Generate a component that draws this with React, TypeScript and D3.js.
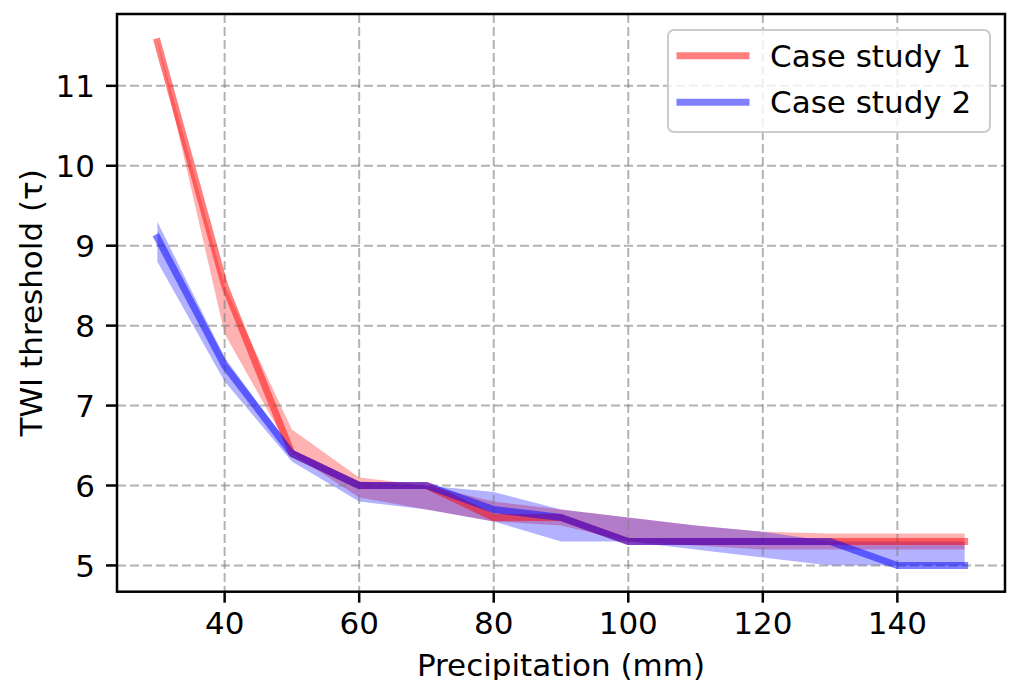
import React from "react";
import * as d3 from "d3";

const precip = [30, 40, 50, 60, 70, 80, 90, 100, 110, 120, 130, 140, 150];
const case1 = [11.55, 8.5, 6.4, 6.0, 6.0, 5.6, 5.6, 5.3, 5.3, 5.3, 5.3, 5.3, 5.3];
const case1Low = [11.55, 7.9, 6.4, 5.85, 5.7, 5.55, 5.5, 5.3, 5.25, 5.2, 5.2, 5.2, 5.2];
const case1High = [11.57, 8.5, 6.7, 6.1, 6.0, 5.8, 5.7, 5.6, 5.5, 5.42, 5.4, 5.4, 5.4];
const case2 = [9.1, 7.5, 6.4, 6.0, 6.0, 5.7, 5.6, 5.3, 5.3, 5.3, 5.3, 5.0, 5.0];
const case2Low = [8.8, 7.3, 6.3, 5.8, 5.7, 5.55, 5.3, 5.3, 5.2, 5.1, 5.0, 5.0, 5.0];
const case2High = [9.3, 7.6, 6.45, 6.05, 6.0, 5.92, 5.7, 5.6, 5.5, 5.42, 5.3, 5.3, 5.3];

const xTicks = [40, 60, 80, 100, 120, 140];
const yTicks = [5, 6, 7, 8, 9, 10, 11];
const seriesNames = ["Case study 1", "Case study 2"];

const W = 1010;
const H = 680;
const L = 117, R = 1005, T = 14, B = 591.7;
const FONT = "DejaVu Sans, sans-serif";
const FS = 31;

export default function App() {
  const xMin = d3.min(precip)!, xMax = d3.max(precip)!;
  const yMin = d3.min([...case1Low, ...case2Low])!;
  const yMax = d3.max([...case1High, ...case2High])!;
  const xPad = (xMax - xMin) * 0.05;
  const yPad = (yMax - yMin) * 0.05;
  const x = d3.scaleLinear().domain([xMin - xPad, xMax + xPad]).range([L, R]);
  const y = d3.scaleLinear().domain([yMin - yPad, yMax + yPad]).range([B, T]);

  const mk = (vals: number[]) => precip.map((p, i) => ({ x: p, y: vals[i] }));
  const line = d3.line<{ x: number; y: number }>().x(d => x(d.x)).y(d => y(d.y));
  const area = (lo: number[], hi: number[]) =>
    d3.area<number>().x(p => x(p)).y0((_, i) => y(lo[i])).y1((_, i) => y(hi[i]))(precip) || "";

  const lw = 7;
  const red = "rgb(255,0,0)";
  const blue = "rgb(0,0,255)";
  const gridStyle = { stroke: "#808080", strokeOpacity: 0.6, strokeWidth: 2, strokeDasharray: "9,4" };

  return (
    <svg width={W} height={H} style={{ position: "absolute", left: 0, top: 0, background: "#fff" }} fontFamily={FONT}>
      <rect x={0} y={0} width={W} height={H} fill="#fff" />
      <defs>
        <clipPath id="plot">
          <rect x={L} y={T} width={R - L} height={B - T} />
        </clipPath>
      </defs>
      <g clipPath="url(#plot)">
        <path d={area(case1Low, case1High)} fill={red} fillOpacity={0.3} />
        <path d={area(case2Low, case2High)} fill={blue} fillOpacity={0.3} />
        {xTicks.map(t => (
          <line key={"gx" + t} x1={x(t)} x2={x(t)} y1={T} y2={B} {...gridStyle} />
        ))}
        {yTicks.map(t => (
          <line key={"gy" + t} x1={L} x2={R} y1={y(t)} y2={y(t)} {...gridStyle} />
        ))}
        <path d={line(mk(case1)) || ""} fill="none" stroke={red} strokeOpacity={0.5} strokeWidth={lw}
          strokeLinecap="square" strokeLinejoin="round" />
        <path d={line(mk(case2)) || ""} fill="none" stroke={blue} strokeOpacity={0.5} strokeWidth={lw}
          strokeLinecap="square" strokeLinejoin="round" />
      </g>
      {/* spines */}
      <rect x={L} y={T} width={R - L} height={B - T} fill="none" stroke="#000" strokeWidth={2.5} />
      {/* x ticks */}
      {xTicks.map(t => (
        <g key={"xt" + t}>
          <line x1={x(t)} x2={x(t)} y1={B} y2={B + 11} stroke="#000" strokeWidth={2.5} />
          <text x={x(t)} y={634} textAnchor="middle" fontSize={FS} fill="#000">{t}</text>
        </g>
      ))}
      {yTicks.map(t => (
        <g key={"yt" + t}>
          <line x1={L - 11} x2={L} y1={y(t)} y2={y(t)} stroke="#000" strokeWidth={2.5} />
          <text x={95} y={y(t) + 11.3} textAnchor="end" fontSize={FS} fill="#000">{t}</text>
        </g>
      ))}
      <text x={(L + R) / 2} y={676} textAnchor="middle" fontSize={FS} fill="#000">Precipitation (mm)</text>
      <text transform={`translate(42,${(T + B) / 2}) rotate(-90)`} textAnchor="middle" fontSize={FS} fill="#000">
        TWI threshold (τ)
      </text>
      {/* legend */}
      <g>
        <rect x={668} y={30} width={322} height={102} rx={6} fill="#fff" fillOpacity={0.8}
          stroke="#cccccc" strokeWidth={2} />
        {seriesNames.map((n, i) => {
          const cy = 55.7 + i * 46.5;
          return (
            <g key={n}>
              <line x1={680} x2={746} y1={cy} y2={cy} stroke={i === 0 ? red : blue} strokeOpacity={0.5}
                strokeWidth={lw} strokeLinecap="square" />
              <text x={770} y={cy + 11} fontSize={FS} fill="#000">{n}</text>
            </g>
          );
        })}
      </g>
    </svg>
  );
}
